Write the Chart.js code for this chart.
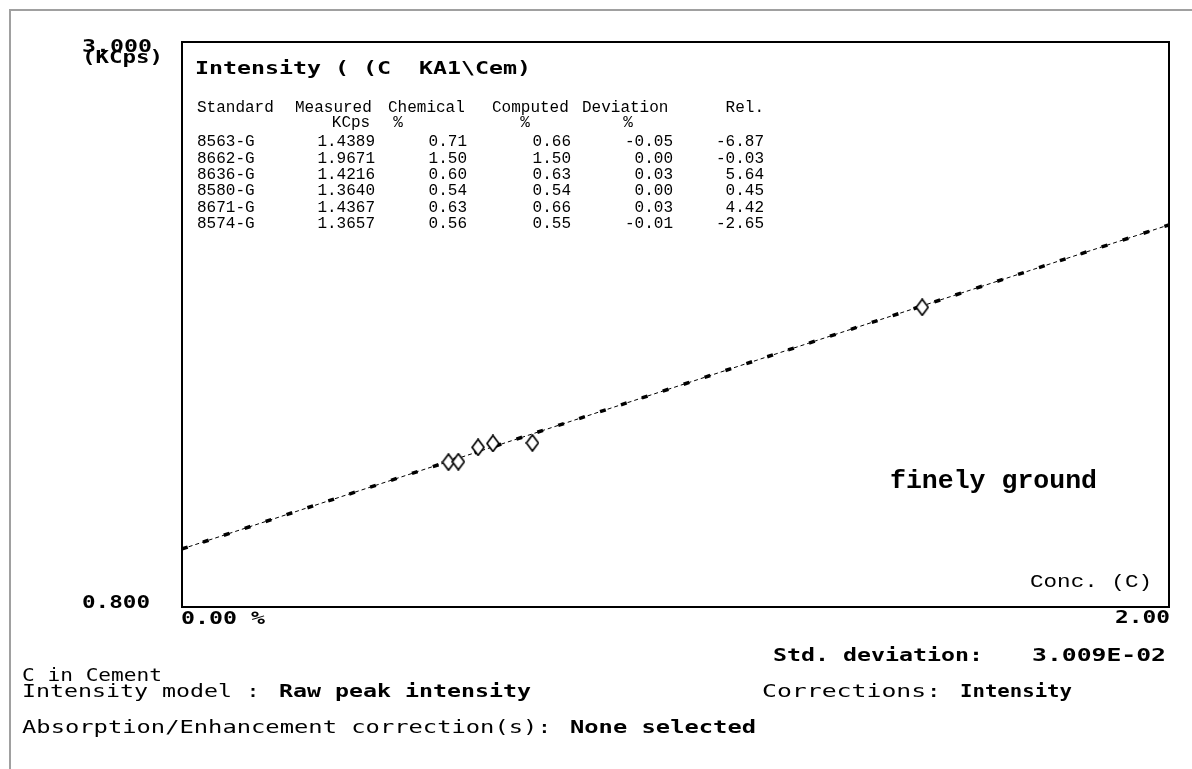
<!DOCTYPE html>
<html>
<head>
<meta charset="utf-8">
<script src="https://cdn.jsdelivr.net/npm/chart.js@4/dist/chart.umd.min.js"></script>
<style>
  html, body { margin: 0; padding: 0; background: #fff; }
  canvas { display: block; }
</style>
</head>
<body>
<canvas id="calib" width="1192" height="769"></canvas>
<script>
// ═══════════════════════════════════════════
// DATA — calibration standards (C in Cement)
// ═══════════════════════════════════════════
const standards = ['8563-G', '8662-G', '8636-G', '8580-G', '8671-G', '8574-G'];
const measured  = [1.4389, 1.9671, 1.4216, 1.3640, 1.4367, 1.3657];   // KCps
const chemical  = [0.71, 1.50, 0.60, 0.54, 0.63, 0.56];               // %
const computed  = [0.66, 1.50, 0.63, 0.54, 0.66, 0.55];               // %
const deviation = [-0.05, 0.00, 0.03, 0.00, 0.03, -0.01];             // %
const relative  = [-6.87, -0.03, 5.64, 0.45, 4.42, -2.65];

// calibration line at both ends of the conc. axis
const lineConc = [0, 2];
const lineKcps = [1.026, 2.288];

// axis range + labels
const xRange = [0, 2];
const yRange = [0.8, 3.0];
const xTickLabels = ['0.00 %', '2.00'];
const yTickLabels = ['3.000', '0.800'];

// ═══════════════════════════════════════════
// TEXT HELPERS
// ═══════════════════════════════════════════
const BITMAP = "'DejaVu Sans Mono', monospace";
const COURIER = "'Liberation Mono', 'Courier New', monospace";

// draws text squeezed/stretched so it spans exactly `w` px (if w given)
function txt(ctx, s, x, y, font, w, align) {
  ctx.font = font;
  const m = ctx.measureText(s).width;
  const sx = w ? w / m : 1;
  ctx.save();
  ctx.translate(x, y);
  ctx.scale(sx, 1);
  ctx.textAlign = align || 'left';
  ctx.textBaseline = 'middle';
  ctx.fillStyle = '#000';
  ctx.fillText(s, 0, 0);
  ctx.restore();
}

const fix2 = v => v.toFixed(2);

// hollow diamond, a bit taller than wide like the screen marker
function diamondMarker() {
  const c = document.createElement('canvas');
  c.width = 14; c.height = 18;
  const g = c.getContext('2d');
  g.beginPath();
  g.moveTo(7, 1); g.lineTo(13, 9); g.lineTo(7, 17); g.lineTo(1, 9); g.closePath();
  g.fillStyle = '#fff'; g.fill();
  g.strokeStyle = '#000'; g.lineWidth = 1.7; g.stroke();
  return c;
}

// ═══════════════════════════════════════════
// PLUGINS — frame box, annotation text
// ═══════════════════════════════════════════
const framePlugin = {
  id: 'frame',
  beforeDraw(chart) {
    const ctx = chart.ctx;
    ctx.save();
    ctx.fillStyle = '#fff';
    ctx.fillRect(0, 0, chart.width, chart.height);
    // grey window edge
    ctx.strokeStyle = '#a0a0a0';
    ctx.lineWidth = 2;
    ctx.beginPath();
    ctx.moveTo(10, chart.height); ctx.lineTo(10, 10); ctx.lineTo(chart.width, 10);
    ctx.stroke();
    ctx.restore();
  },
  afterDatasetsDraw(chart) {
    const { ctx, chartArea: a } = chart;
    ctx.save();
    ctx.strokeStyle = '#000';
    ctx.lineWidth = 2;
    ctx.strokeRect(a.left, a.top, a.right - a.left, a.bottom - a.top);
    ctx.restore();
  }
};

const textPlugin = {
  id: 'texts',
  afterDraw(chart) {
    const ctx = chart.ctx;
    const xs = chart.scales.x, ys = chart.scales.y;
    const B = 'bold 17px ' + BITMAP;

    // y axis labels
    txt(ctx, yTickLabels[0], 82, ys.getPixelForValue(yRange[1]) + 6, B, 70);
    txt(ctx, '(KCps)', 82, 59, B, 81);
    txt(ctx, yTickLabels[1], 82, ys.getPixelForValue(yRange[0]) - 3, B, 68);
    // x axis labels
    txt(ctx, xTickLabels[0], xs.getPixelForValue(xRange[0]) - 1, 620, B, 84);
    txt(ctx, xTickLabels[1], xs.getPixelForValue(xRange[1]) + 1, 619, B, 55, 'right');

    // title inside the box
    txt(ctx, 'Intensity ( (C  KA1\\Cem)', 195, 69, 'bold 18px ' + BITMAP, 336);

    // results table
    const T = '16px ' + COURIER;
    txt(ctx, 'Standard', 197, 108, T);
    txt(ctx, 'Measured', 295, 108, T);
    txt(ctx, 'Chemical', 388, 108, T);
    txt(ctx, 'Computed', 492, 108, T);
    txt(ctx, 'Deviation', 582, 108, T);
    txt(ctx, 'Rel.', 764, 108, T, null, 'right');
    txt(ctx, 'KCps', 351, 123, T, null, 'center');
    txt(ctx, '%', 398, 123, T, null, 'center');
    txt(ctx, '%', 525, 123, T, null, 'center');
    txt(ctx, '%', 628, 123, T, null, 'center');
    standards.forEach((s, i) => {
      const y = 142 + i * 16.4;
      txt(ctx, s, 197, y, T);
      txt(ctx, measured[i].toFixed(4), 375, y, T, null, 'right');
      txt(ctx, fix2(chemical[i]), 467, y, T, null, 'right');
      txt(ctx, fix2(computed[i]), 571, y, T, null, 'right');
      txt(ctx, fix2(deviation[i]), 673, y, T, null, 'right');
      txt(ctx, fix2(relative[i]), 764, y, T, null, 'right');
    });

    // annotations in the plot
    txt(ctx, 'finely ground', 890, 482, 'bold 25px ' + COURIER, 207);
    txt(ctx, 'Conc. (C)', 1030, 582, '19px ' + COURIER, 122);

    // summary below the chart
    txt(ctx, 'Std. deviation:', 773, 657, B, 210);
    txt(ctx, '3.009E-02', 1166, 657, B, 134, 'right');

    const N = '17px ' + BITMAP, NB = 'bold 17px ' + BITMAP;
    txt(ctx, 'C in Cement', 22, 677, N, 140);
    txt(ctx, 'Intensity model : ', 22, 693, N, 252);
    txt(ctx, 'Raw peak intensity', 279, 693, NB, 252);
    txt(ctx, 'Corrections: ', 762, 693, N, 194);
    txt(ctx, 'Intensity', 960, 693, NB, 112);
    txt(ctx, 'Absorption/Enhancement correction(s): ', 22, 729, N, 544);
    txt(ctx, 'None selected', 570, 729, NB, 186);
  }
};

// ═══════════════════════════════════════════
// CHART
// ═══════════════════════════════════════════
function renderCalibration() {
  const canvas = document.getElementById('calib');
  const pts = chemical.map((c, i) => ({ x: c, y: measured[i] }));
  const line = lineConc.map((c, i) => ({ x: c, y: lineKcps[i] }));

  new Chart(canvas, {
    type: 'scatter',
    data: {
      datasets: [
        {
          label: 'Standards',
          data: pts,
          pointStyle: diamondMarker(),
          pointRadius: 7,
          order: 0
        },
        {
          label: 'Calibration (thin)',
          data: line,
          showLine: true,
          pointRadius: 0,
          borderColor: '#000',
          borderWidth: 1,
          borderDash: [4, 3],
          order: 2
        },
        {
          label: 'Calibration (dash)',
          data: line,
          showLine: true,
          pointRadius: 0,
          borderColor: '#000',
          borderWidth: 3.5,
          borderDash: [6, 16],
          order: 1
        }
      ]
    },
    options: {
      responsive: false,
      animation: false,
      devicePixelRatio: 1,
      layout: { padding: { left: 182, right: 1192 - 1169, top: 42, bottom: 769 - 607 } },
      plugins: { legend: { display: false }, tooltip: { enabled: false } },
      scales: {
        x: { type: 'linear', min: xRange[0], max: xRange[1], display: false },
        y: { type: 'linear', min: yRange[0], max: yRange[1], display: false }
      }
    },
    plugins: [framePlugin, textPlugin]
  });
}

renderCalibration();
</script>
</body>
</html>
